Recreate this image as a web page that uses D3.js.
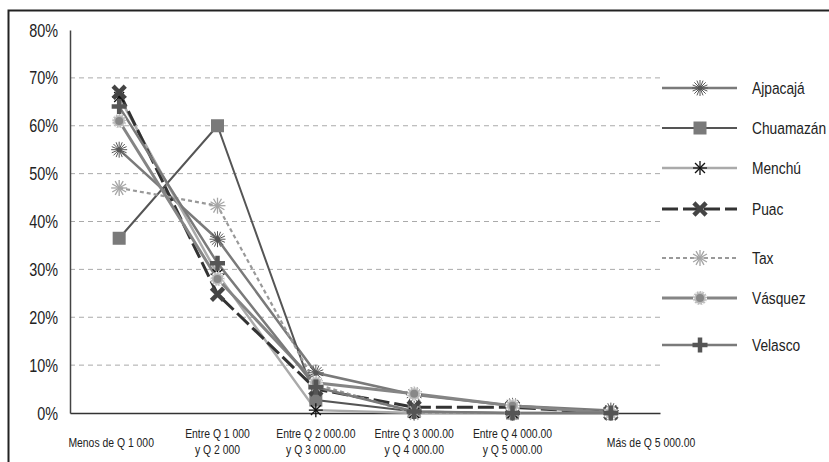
<!DOCTYPE html>
<html><head><meta charset="utf-8">
<script src="https://cdn.jsdelivr.net/npm/d3@7"></script>
<style>
body{margin:0;background:#fff;}
svg{display:block;font-family:"Liberation Sans",Arial,sans-serif;}
</style></head><body>
<svg id="c" width="829" height="462"></svg>
<script>
const categories = [["Menos de Q 1 000"],["Entre Q 1 000","y Q 2 000"],["Entre Q 2 000.00","y Q 3 000.00"],["Entre Q 3 000.00","y Q 4 000.00"],["Entre Q 4 000.00","y Q 5 000.00"],["Más de Q 5 000.00"]];
const seriesNames = ["Ajpacajá","Chuamazán","Menchú","Puac","Tax","Vásquez","Velasco"];
const ajpacaja  = [55, 36.3, 8.4, 3.8, 1.5, 0.5];
const chuamazan = [36.5, 60, 2.7, 0.3, 0, 0];
const menchu    = [66, 29, 0.6, 0, 0, 0];
const puac      = [67, 24.8, 5, 1.2, 1.2, 0];
const tax       = [47, 43.3, 6, 0, 0, 0];
const vasquez   = [61, 28, 6.3, 4, 1.5, 0];
const velasco   = [64, 31.3, 5.4, 0.3, 0, 0];
const yTicks = [0,10,20,30,40,50,60,70,80];
const legendY = [88,128,168,209,258,298,345];

const values = [ajpacaja, chuamazan, menchu, puac, tax, vasquez, velasco];
const styles = [
  {line:"#7a7a7a", w:2.5, dash:null, marker:"burst"},
  {line:"#555", w:2, dash:null, marker:"square"},
  {line:"#aaa", w:2.5, dash:null, marker:"ast"},
  {line:"#333", w:3, dash:"16,5", marker:"x"},
  {line:"#999", w:2.2, dash:"4,3", marker:"star"},
  {line:"#858585", w:3, dash:null, marker:"circle"},
  {line:"#7a7a7a", w:2.5, dash:null, marker:"plus"}
];

const svg = d3.select("#c");
const L=70, R=660, T=30, B=413;
const x = d3.scaleBand().domain(d3.range(categories.length)).range([L,R]);
const y = d3.scaleLinear().domain([0,80]).range([B,T]);
const cx = i => x(i) + x.bandwidth()/2;

function txt(g, px, py, s, size, anchor, sx){
  return g.append("text").attr("transform",`translate(${px},${py}) scale(${sx},1)`)
    .attr("text-anchor",anchor).attr("font-size",size).attr("fill","#222").text(s);
}

// outer border
svg.append("rect").attr("x",8.5).attr("y",10.5).attr("width",840).attr("height",470)
  .attr("fill","none").attr("stroke","#222").attr("stroke-width",2);

// gridlines
svg.append("g").selectAll("line").data(yTicks.filter(t=>t>0 && t<80)).join("line")
  .attr("x1",L).attr("x2",R).attr("y1",d=>y(d)).attr("y2",d=>y(d))
  .attr("stroke","#aaa").attr("stroke-dasharray","5,4").attr("stroke-width",1);

// y axis
const ya = svg.append("g").attr("transform",`translate(${L},0)`)
  .call(d3.axisLeft(y).tickValues(yTicks).tickFormat("").tickSize(0));
ya.select(".domain").attr("stroke","#444").attr("stroke-width",1.5);
const yl = svg.append("g");
yTicks.forEach(t=>txt(yl, 58, y(t)+6.5, t+"%", 18, "end", 0.8));

// x axis
const xa = svg.append("g").attr("transform",`translate(0,${B})`)
  .call(d3.axisBottom(x).tickSize(0).tickFormat(""));
xa.select(".domain").attr("stroke","#333").attr("stroke-width",1.5);
const xl = svg.append("g");
const last = categories.length-1;
categories.forEach((c,i)=>{
  if(c.length===1){
    if(i===last) txt(xl, cx(i)-4, 447, c[0], 13, "start", 0.8);
    else txt(xl, cx(i)-8, 447, c[0], 13, "middle", 0.8);
  }
  else { c.forEach((s,k)=>txt(xl, cx(i), 438+k*16, s, 13, "middle", 0.8)); }
});

function marker(g, type, px, py){
  const m = g.append("g").attr("transform",`translate(${px},${py})`);
  if(type==="burst"){
    for(let a=0;a<16;a++){const an=a*Math.PI/8;
      m.append("line").attr("x1",0).attr("y1",0).attr("x2",8*Math.cos(an)).attr("y2",8*Math.sin(an))
       .attr("stroke","#555").attr("stroke-width",1);}
    m.append("circle").attr("r",2.5).attr("fill","#555");
  } else if(type==="square"){
    m.append("rect").attr("x",-6.5).attr("y",-6.5).attr("width",13).attr("height",13).attr("fill","#7a7a7a");
  } else if(type==="ast"){
    for(let a=0;a<4;a++){const an=a*Math.PI/4;
      m.append("line").attr("x1",-7*Math.cos(an)).attr("y1",-7*Math.sin(an)).attr("x2",7*Math.cos(an)).attr("y2",7*Math.sin(an))
       .attr("stroke","#111").attr("stroke-width",1.3);}
  } else if(type==="x"){
    m.append("path").attr("d","M-4.5,-4.5L4.5,4.5M-4.5,4.5L4.5,-4.5").attr("stroke","#444").attr("stroke-width",4.5).attr("stroke-linecap","square");
  } else if(type==="star"){
    for(let a=0;a<6;a++){const an=a*Math.PI/6+Math.PI/2;
      m.append("line").attr("x1",-8*Math.cos(an)).attr("y1",-8*Math.sin(an)).attr("x2",8*Math.cos(an)).attr("y2",8*Math.sin(an))
       .attr("stroke","#a5a5a5").attr("stroke-width",1.3);}
  } else if(type==="circle"){
    m.append("circle").attr("r",7).attr("fill","#bbb");
    m.append("circle").attr("r",6.3).attr("fill","none").attr("stroke","#fff").attr("stroke-width",1.2).attr("stroke-dasharray","1.5,1.5");
    m.append("circle").attr("r",4).attr("fill","#888");
  } else if(type==="plus"){
    m.append("path").attr("d","M-7.5,0L7.5,0M0,-7.5L0,7.5").attr("stroke","#555").attr("stroke-width",4.5);
  }
}

const line = d3.line().x((d,i)=>cx(i)).y(d=>y(d));
const lg = svg.append("g"), mg = svg.append("g");
values.forEach((v,s)=>{
  const st = styles[s];
  lg.append("path").datum(v).attr("d",line).attr("fill","none").attr("stroke",st.line)
    .attr("stroke-width",st.w).attr("stroke-dasharray",st.dash);
  v.forEach((d,i)=>marker(mg, st.marker, cx(i), y(d)));
});

// legend
const leg = svg.append("g");
seriesNames.forEach((n,s)=>{
  const st = styles[s], ly = legendY[s];
  leg.append("line").attr("x1",662).attr("x2",737).attr("y1",ly).attr("y2",ly)
    .attr("stroke",st.line).attr("stroke-width",st.w).attr("stroke-dasharray",st.dash);
  marker(leg, st.marker, 700, ly);
  txt(leg, 752, ly+6, n, 17, "start", 0.81);
});
</script></body></html>
